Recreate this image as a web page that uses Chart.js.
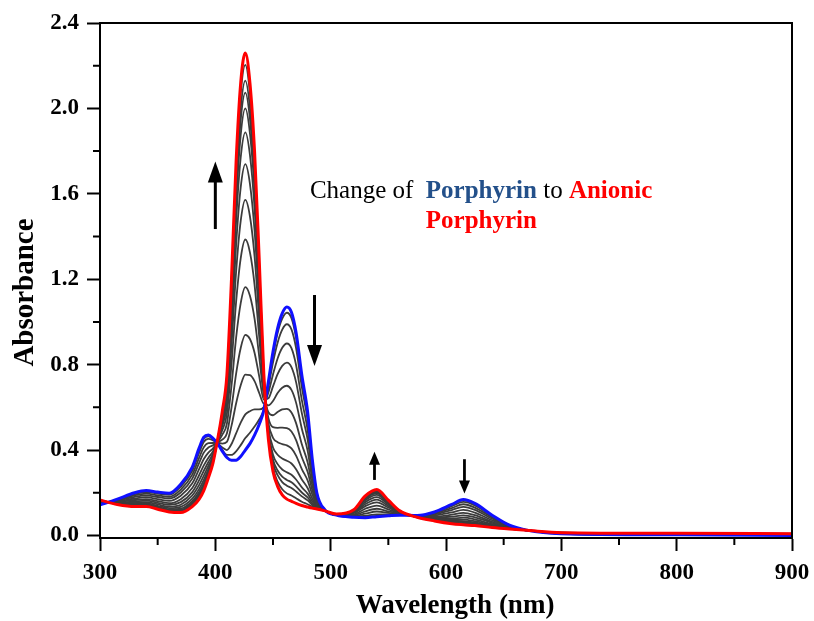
<!DOCTYPE html>
<html>
<head>
<meta charset="utf-8">
<script src="https://cdn.jsdelivr.net/npm/chart.js@4.4.1/dist/chart.umd.min.js"></script>
<style>
  html, body { margin: 0; padding: 0; background: #ffffff; }
  canvas { display: block; }
</style>
</head>
<body>
<canvas id="spectra" width="814" height="621"></canvas>
<script>
// Wavelength grid (nm) shared by every spectrum
const wavelengths = [300,315,330,340,350,360,370,380,386,390,394,398,402,406,410,414,418,422,426,430,434,438,442,446,450,454,458,462,466,470,475,480,484,488,495,505,520,530,540,550,560,575,590,605,615,625,640,655,670,700,800,900];

// Starting porphyrin (blue trace)
const porphyrin = [0.143,0.17,0.2,0.21,0.203,0.198,0.24,0.32,0.41,0.46,0.47,0.455,0.43,0.395,0.365,0.352,0.352,0.37,0.4,0.43,0.47,0.52,0.585,0.72,0.86,0.97,1.04,1.07,1.045,0.95,0.75,0.58,0.36,0.2,0.12,0.095,0.085,0.083,0.088,0.092,0.095,0.093,0.11,0.145,0.168,0.15,0.095,0.048,0.025,0.008,0.003,0.0];

// Final anionic porphyrin (red trace)
const anionicPorphyrin = [0.166,0.145,0.135,0.135,0.123,0.11,0.107,0.135,0.17,0.21,0.27,0.34,0.45,0.58,0.75,1.2,1.75,2.12,2.26,2.12,1.8,1.3,0.76,0.45,0.3,0.23,0.19,0.17,0.16,0.15,0.14,0.133,0.128,0.124,0.115,0.1,0.12,0.185,0.215,0.165,0.115,0.085,0.068,0.055,0.05,0.046,0.037,0.03,0.024,0.013,0.01,0.008];

// Intermediate spectra recorded during the titration (grey traces)
const step01 = [0.144,0.169,0.198,0.208,0.201,0.195,0.236,0.314,0.403,0.453,0.464,0.452,0.431,0.401,0.377,0.377,0.394,0.423,0.456,0.481,0.510,0.543,0.590,0.712,0.843,0.948,1.015,1.043,1.018,0.926,0.732,0.567,0.353,0.198,0.120,0.095,0.086,0.086,0.092,0.094,0.096,0.093,0.109,0.142,0.165,0.147,0.093,0.047,0.025,0.008,0.003,0.000];
const step02 = [0.145,0.168,0.194,0.203,0.196,0.190,0.228,0.303,0.388,0.438,0.452,0.445,0.432,0.412,0.400,0.428,0.478,0.528,0.567,0.582,0.590,0.590,0.601,0.696,0.810,0.903,0.964,0.989,0.965,0.878,0.695,0.540,0.339,0.193,0.120,0.096,0.088,0.092,0.099,0.099,0.097,0.092,0.106,0.137,0.157,0.141,0.090,0.046,0.025,0.008,0.004,0.001];
const step03 = [0.147,0.165,0.188,0.196,0.188,0.181,0.215,0.285,0.364,0.413,0.432,0.433,0.434,0.430,0.438,0.513,0.618,0.703,0.753,0.751,0.723,0.668,0.618,0.669,0.754,0.829,0.879,0.899,0.877,0.798,0.634,0.495,0.316,0.186,0.119,0.096,0.092,0.102,0.112,0.106,0.099,0.092,0.102,0.128,0.146,0.130,0.084,0.045,0.025,0.009,0.004,0.002];
const step04 = [0.150,0.163,0.181,0.188,0.180,0.173,0.201,0.266,0.340,0.388,0.412,0.422,0.436,0.449,0.477,0.598,0.757,0.878,0.939,0.920,0.856,0.746,0.636,0.642,0.698,0.755,0.794,0.809,0.788,0.718,0.573,0.450,0.293,0.178,0.119,0.097,0.095,0.113,0.125,0.113,0.101,0.091,0.098,0.119,0.134,0.120,0.078,0.043,0.025,0.009,0.005,0.002];
const step05 = [0.152,0.160,0.173,0.179,0.170,0.162,0.186,0.244,0.312,0.358,0.388,0.408,0.438,0.471,0.523,0.700,0.925,1.088,1.163,1.123,1.015,0.840,0.657,0.609,0.630,0.667,0.692,0.701,0.682,0.622,0.500,0.397,0.265,0.169,0.118,0.097,0.099,0.125,0.140,0.122,0.103,0.090,0.093,0.108,0.120,0.107,0.071,0.041,0.025,0.010,0.006,0.003];
const step06 = [0.155,0.157,0.166,0.170,0.161,0.151,0.170,0.222,0.283,0.328,0.364,0.394,0.441,0.493,0.569,0.801,1.093,1.298,1.386,1.326,1.175,0.933,0.678,0.577,0.563,0.578,0.590,0.593,0.576,0.526,0.427,0.343,0.237,0.160,0.117,0.098,0.104,0.137,0.155,0.131,0.106,0.089,0.088,0.097,0.106,0.095,0.064,0.039,0.024,0.011,0.007,0.004];
const step07 = [0.158,0.154,0.159,0.163,0.153,0.143,0.156,0.203,0.259,0.303,0.344,0.383,0.443,0.512,0.608,0.886,1.233,1.473,1.572,1.495,1.308,1.011,0.695,0.550,0.507,0.504,0.505,0.503,0.487,0.446,0.366,0.298,0.214,0.152,0.117,0.098,0.107,0.147,0.168,0.138,0.108,0.088,0.084,0.088,0.094,0.085,0.059,0.037,0.024,0.011,0.007,0.005];
const step08 = [0.160,0.152,0.153,0.156,0.145,0.135,0.144,0.187,0.237,0.280,0.326,0.372,0.444,0.528,0.642,0.963,1.359,1.630,1.739,1.647,1.428,1.082,0.711,0.526,0.457,0.437,0.428,0.422,0.408,0.374,0.311,0.258,0.193,0.145,0.116,0.099,0.110,0.156,0.179,0.145,0.109,0.087,0.080,0.080,0.083,0.075,0.053,0.035,0.024,0.012,0.008,0.006];
const step09 = [0.161,0.150,0.148,0.150,0.139,0.128,0.134,0.172,0.218,0.260,0.310,0.363,0.446,0.543,0.673,1.030,1.470,1.770,1.888,1.782,1.534,1.144,0.725,0.504,0.412,0.378,0.360,0.350,0.337,0.310,0.262,0.222,0.174,0.139,0.116,0.099,0.113,0.165,0.190,0.150,0.111,0.087,0.076,0.073,0.074,0.067,0.049,0.034,0.024,0.012,0.009,0.006];
const step10 = [0.163,0.149,0.144,0.146,0.134,0.122,0.126,0.161,0.204,0.245,0.298,0.356,0.447,0.554,0.696,1.081,1.554,1.875,2.000,1.883,1.614,1.191,0.736,0.488,0.378,0.334,0.309,0.296,0.284,0.262,0.225,0.196,0.161,0.135,0.116,0.099,0.115,0.171,0.197,0.155,0.112,0.086,0.074,0.068,0.067,0.061,0.045,0.033,0.024,0.012,0.009,0.007];
const step11 = [0.164,0.148,0.142,0.143,0.131,0.119,0.120,0.154,0.194,0.235,0.290,0.352,0.448,0.562,0.712,1.115,1.610,1.945,2.074,1.951,1.667,1.222,0.743,0.477,0.356,0.304,0.275,0.260,0.249,0.230,0.201,0.178,0.151,0.132,0.116,0.100,0.117,0.175,0.202,0.158,0.113,0.086,0.072,0.064,0.062,0.056,0.043,0.032,0.024,0.013,0.009,0.007];
const step12 = [0.164,0.147,0.140,0.140,0.129,0.116,0.116,0.148,0.187,0.228,0.284,0.348,0.449,0.567,0.723,1.141,1.652,1.998,2.130,2.002,1.707,1.245,0.748,0.469,0.339,0.282,0.250,0.233,0.222,0.206,0.183,0.164,0.144,0.129,0.115,0.100,0.118,0.178,0.206,0.160,0.114,0.086,0.071,0.061,0.058,0.053,0.041,0.031,0.024,0.013,0.010,0.007];
const step13 = [0.165,0.146,0.137,0.137,0.125,0.113,0.111,0.141,0.177,0.218,0.276,0.343,0.449,0.575,0.739,1.175,1.708,2.068,2.204,2.069,1.760,1.277,0.755,0.458,0.317,0.252,0.216,0.197,0.187,0.174,0.158,0.146,0.135,0.126,0.115,0.100,0.119,0.182,0.211,0.163,0.114,0.085,0.069,0.058,0.054,0.049,0.039,0.031,0.024,0.013,0.010,0.008];
const titrationSteps = [step01, step02, step03, step04, step05, step06, step07, step08, step09, step10, step11, step12, step13];

// Axis ticks
const xTicks = [300, 400, 500, 600, 700, 800, 900];
const xMinorTicks = [350, 450, 550, 650, 750, 850];
const yTicks = [0, 0.4, 0.8, 1.2, 1.6, 2.0, 2.4];
const yMinorTicks = [0.2, 0.6, 1.0, 1.4, 1.8, 2.2];

// Direction arrows: wavelength, start absorbance, end absorbance
const arrowNm   = [400, 486, 538, 616];
const arrowFrom = [1.435, 1.126, 0.26, 0.357];
const arrowTo   = [1.751, 0.794, 0.392, 0.197];

// Caption anchor (wavelength, absorbance of the first baseline / second baseline)
const captionNm = 482;
const captionAbs = [1.58, 1.44];

const SERIF = "'Liberation Serif', 'Times New Roman', serif";

const toPoints = arr => arr.map((v, i) => ({ x: wavelengths[i], y: v }));

const datasets = [
  { data: toPoints(anionicPorphyrin), borderColor: '#ff0000', borderWidth: 3 },
  { data: toPoints(porphyrin), borderColor: '#1010ff', borderWidth: 3 }
];
titrationSteps.slice().reverse().forEach(s => {
  datasets.push({ data: toPoints(s), borderColor: '#3c3c3c', borderWidth: 1.8 });
});
datasets.forEach(d => {
  d.pointRadius = 0;
  d.fill = false;
  d.cubicInterpolationMode = 'monotone';
});

function drawArrow(ctx, x, y0, y1, headW, headL, lw) {
  const dir = Math.sign(y1 - y0);
  ctx.lineWidth = lw;
  ctx.beginPath();
  ctx.moveTo(x, y0);
  ctx.lineTo(x, y1 - dir * headL * 0.8);
  ctx.stroke();
  ctx.beginPath();
  ctx.moveTo(x, y1);
  ctx.lineTo(x - headW / 2, y1 - dir * headL);
  ctx.lineTo(x + headW / 2, y1 - dir * headL);
  ctx.closePath();
  ctx.fill();
}

const decorations = {
  id: 'decorations',
  afterDraw(chart) {
    const { ctx, chartArea: a, scales: { x, y } } = chart;
    ctx.save();
    ctx.strokeStyle = '#000';
    ctx.fillStyle = '#000';

    // frame
    ctx.lineWidth = 2;
    ctx.strokeRect(a.left, a.top, a.right - a.left, a.bottom - a.top);

    // minor ticks
    ctx.lineWidth = 2;
    ctx.beginPath();
    xMinorTicks.forEach(v => {
      const px = x.getPixelForValue(v);
      ctx.moveTo(px, a.bottom);
      ctx.lineTo(px, a.bottom + 7);
    });
    yMinorTicks.forEach(v => {
      const py = y.getPixelForValue(v);
      ctx.moveTo(a.left, py);
      ctx.lineTo(a.left - 7, py);
    });
    ctx.stroke();

    // arrows
    arrowNm.forEach((nm, i) => {
      const px = x.getPixelForValue(nm);
      const y0 = y.getPixelForValue(arrowFrom[i]);
      const y1 = y.getPixelForValue(arrowTo[i]);
      const big = i < 2;
      drawArrow(ctx, px, y0, y1, big ? 15 : 11, big ? 21 : 13, big ? 3 : 2.8);
    });

    // axis titles
    ctx.font = "bold 29px " + SERIF;
    ctx.textBaseline = 'alphabetic';
    ctx.textAlign = 'center';
    ctx.save();
    ctx.translate(33, (a.top + a.bottom) / 2 + 12);
    ctx.rotate(-Math.PI / 2);
    ctx.fillText('Absorbance', 0, 0);
    ctx.restore();
    ctx.font = "bold 27px " + SERIF;
    ctx.fillText('Wavelength (nm)', (a.left + a.right) / 2 + 9, 613);

    // caption
    ctx.textAlign = 'left';
    const cx = x.getPixelForValue(captionNm);
    const cy1 = y.getPixelForValue(captionAbs[0]);
    const cy2 = y.getPixelForValue(captionAbs[1]);
    const parts = [
      { t: 'Change of  ', c: '#000000', w: 'normal' },
      { t: 'Porphyrin', c: '#23508a', w: 'bold' },
      { t: ' to ', c: '#000000', w: 'normal' },
      { t: 'Anionic', c: '#ff0000', w: 'bold' }
    ];
    let px = cx, porphX = cx;
    parts.forEach((p, i) => {
      ctx.font = p.w + ' 25px ' + SERIF;
      ctx.fillStyle = p.c;
      if (i === 1) porphX = px;
      ctx.fillText(p.t, px, cy1);
      px += ctx.measureText(p.t).width;
    });
    ctx.font = 'bold 25px ' + SERIF;
    ctx.fillStyle = '#ff0000';
    ctx.fillText('Porphyrin', porphX, cy2);
    ctx.restore();
  }
};

const tickFont = { family: SERIF, size: 23, weight: 'bold' };

new Chart(document.getElementById('spectra'), {
  type: 'line',
  data: { datasets },
  options: {
    responsive: false,
    animation: false,
    devicePixelRatio: 1,
    layout: { padding: { left: 0, top: 23, right: 22, bottom: 0 } },
    plugins: { legend: { display: false }, tooltip: { enabled: false } },
    elements: { point: { radius: 0 } },
    scales: {
      x: {
        type: 'linear', min: 300, max: 900,
        afterBuildTicks: s => { s.ticks = xTicks.map(v => ({ value: v })); },
        afterFit: s => { s.height = 83; s.paddingLeft = 0; s.paddingRight = 0; },
        ticks: { font: tickFont, color: '#000', padding: 8, maxRotation: 0, autoSkip: false },
        grid: { drawOnChartArea: false, drawTicks: true, tickLength: 13, tickWidth: 2, tickColor: '#000' },
        border: { display: true, color: '#000', width: 2 }
      },
      y: {
        type: 'linear', min: -0.012, max: 2.4,
        afterBuildTicks: s => { s.ticks = yTicks.map(v => ({ value: v })); },
        afterFit: s => { s.width = 100; s.paddingTop = 0; s.paddingBottom = 0; },
        ticks: { font: tickFont, color: '#000', padding: 8, callback: v => v.toFixed(1) },
        grid: { drawOnChartArea: false, drawTicks: true, tickLength: 13, tickWidth: 2, tickColor: '#000' },
        border: { display: true, color: '#000', width: 2 }
      }
    }
  },
  plugins: [decorations]
});
</script>
</body>
</html>
